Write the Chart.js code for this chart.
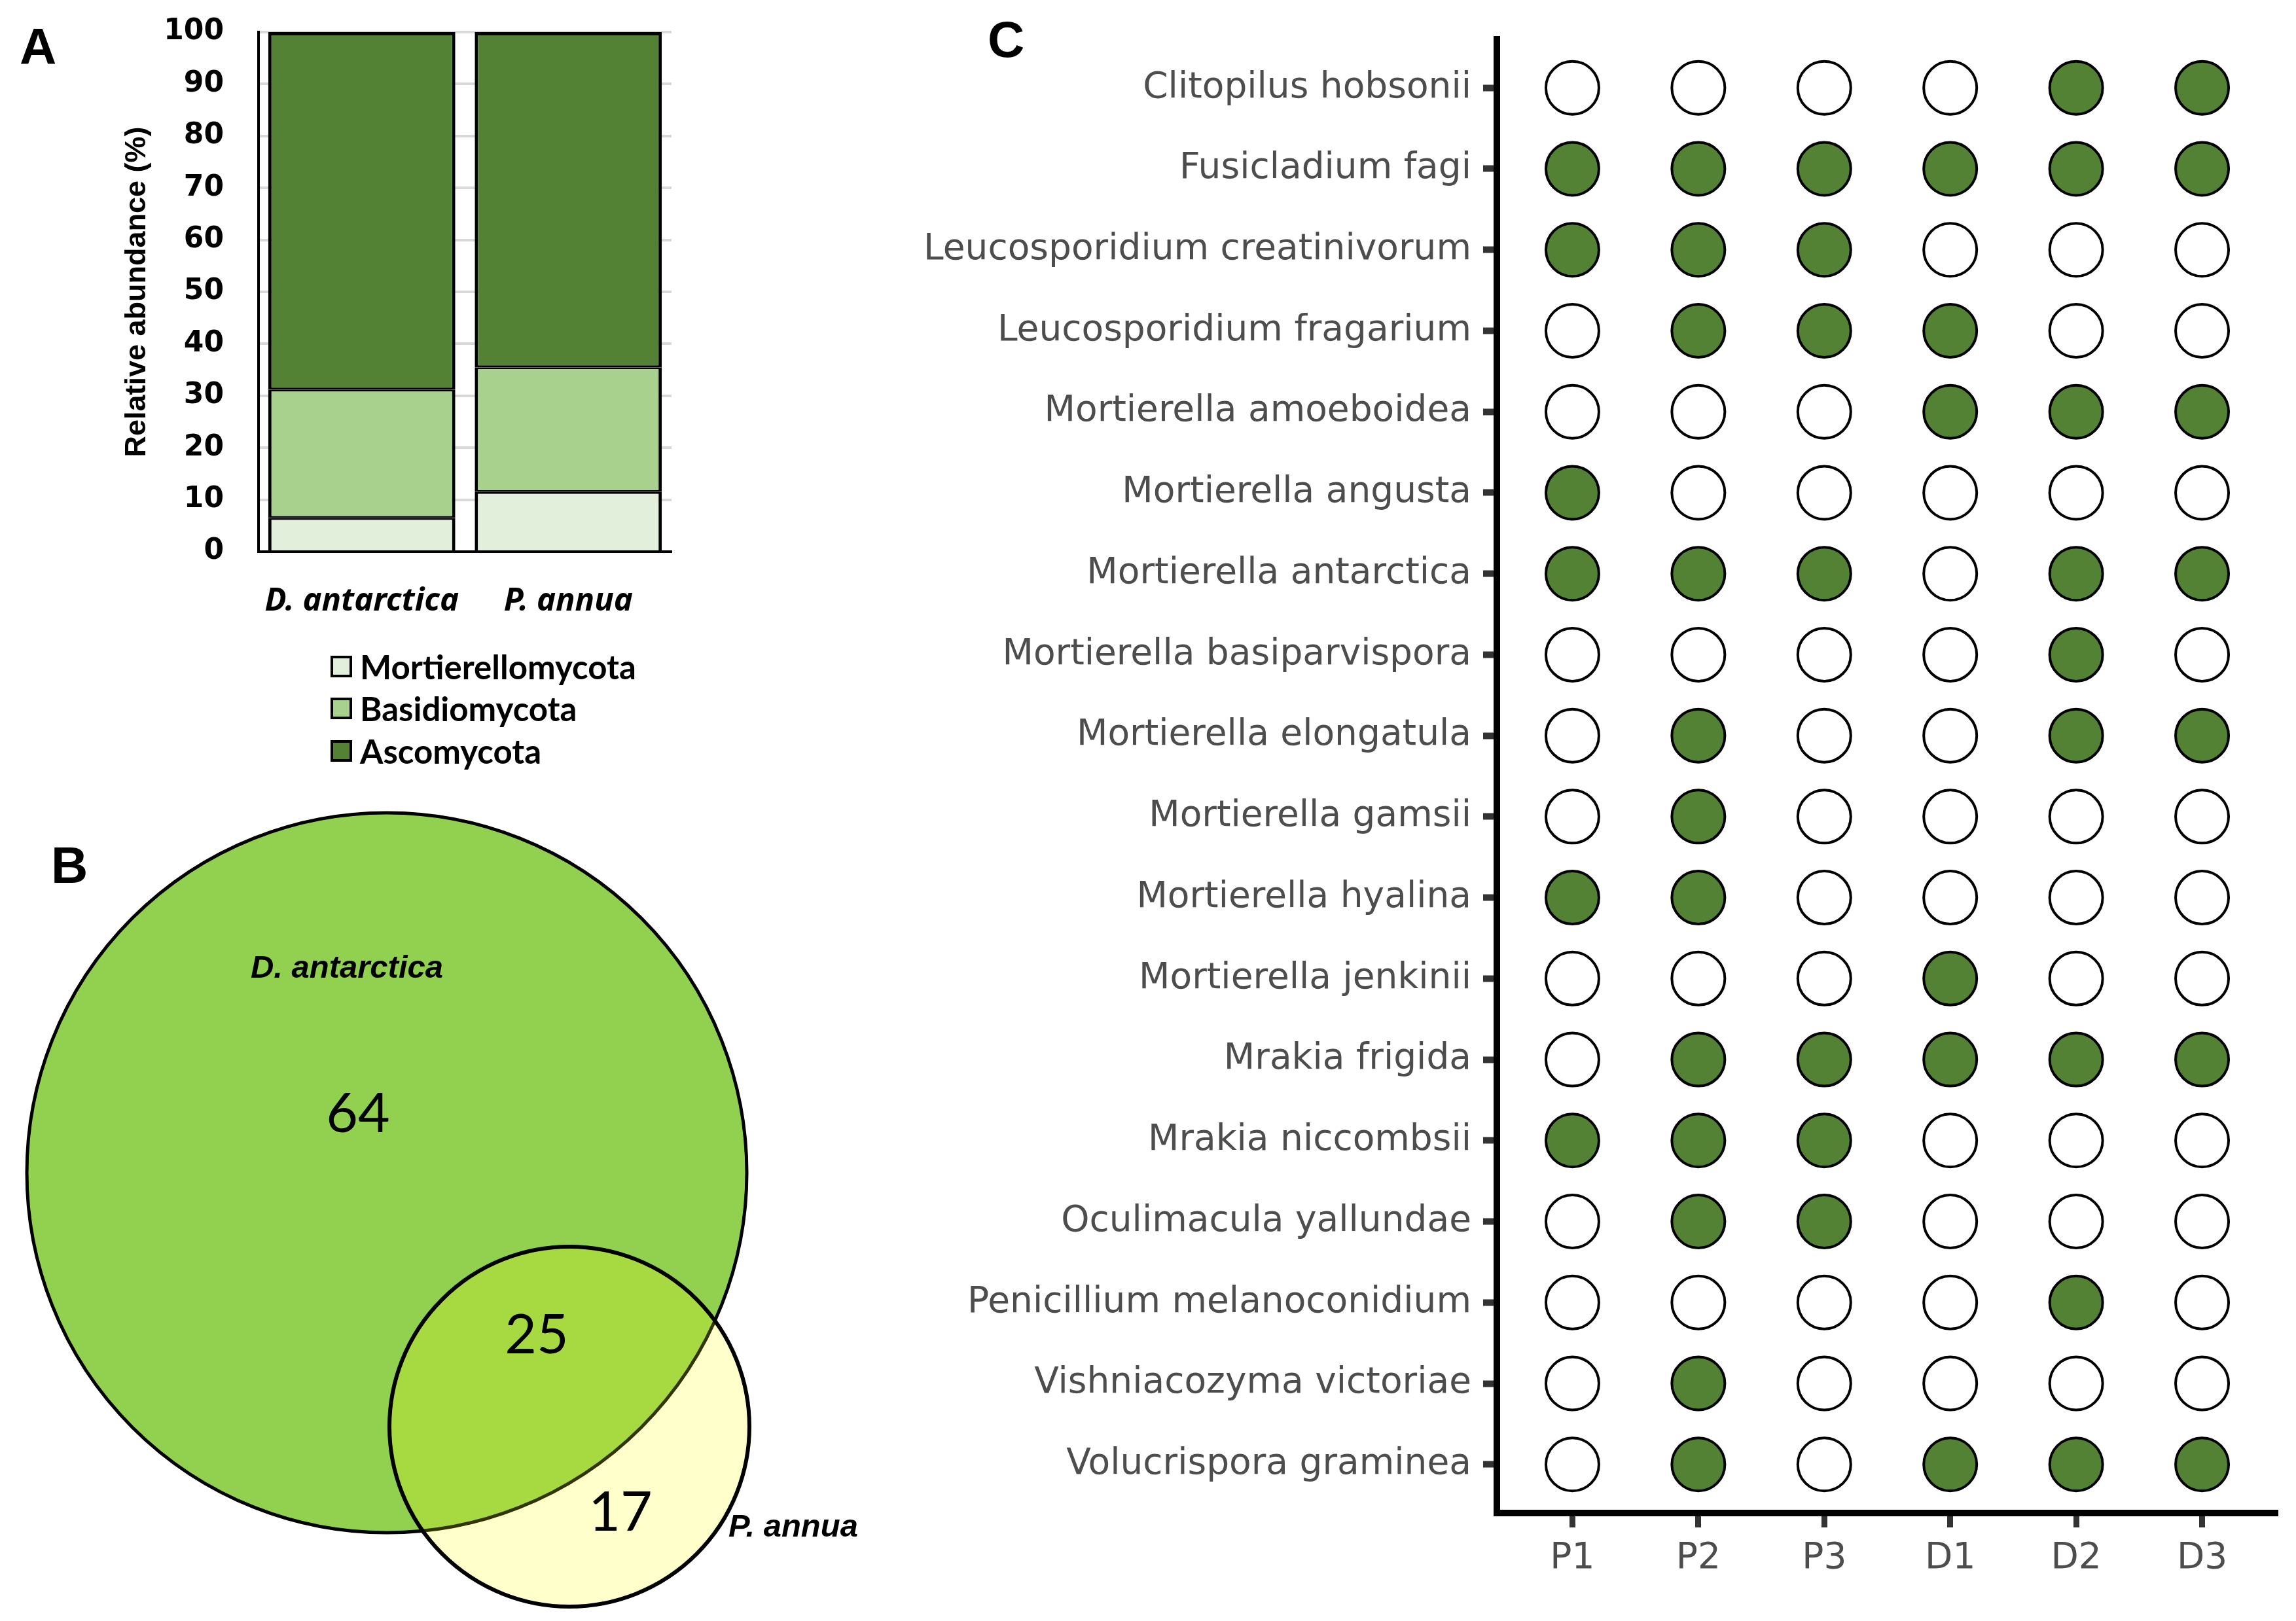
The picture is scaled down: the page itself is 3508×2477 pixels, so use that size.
<!DOCTYPE html>
<html>
<head>
<meta charset="utf-8">
<title>Fungal community composition</title>
<script src="https://cdn.jsdelivr.net/npm/chart.js@4.4.1/dist/chart.umd.min.js"></script>
<style>
  html, body { margin: 0; padding: 0; background: #fff; }
  body { width: 3508px; height: 2477px; position: relative; overflow: hidden; }
  canvas { position: absolute; }
  .letter { position: absolute; font-family: 'Liberation Sans', Arial, sans-serif; font-weight: bold; font-size: 78px; line-height: 1; color: #000; }
  .venn-text { position: absolute; transform: translate(-50%, -50%); line-height: 1; white-space: nowrap; color: #000; }
  .venn-name { font-family: 'Liberation Sans', Arial, sans-serif; font-weight: bold; font-style: italic; font-size: 49px; }
  .venn-count { font-family: 'Lato', 'Liberation Sans', sans-serif; font-size: 84px; }
  #legendA { position: absolute; left: 505px; top: 986px; font-family: 'Lato', sans-serif; font-weight: bold; font-size: 51px; color: #000; }
  .leg-row { display: flex; align-items: center; height: 64.5px; line-height: 1; }
  .leg-box { width: 33px; height: 33px; box-sizing: border-box; border: 4px solid #000; margin-right: 12px; }
</style>
</head>
<body>

<div class="letter" style="left:30px; top:32px;">A</div>
<div class="letter" style="left:78px; top:1283px;">B</div>
<div class="letter" style="left:1509px; top:21px;">C</div>

<canvas id="chartA" width="1100" height="1000" style="left:0; top:0;"></canvas>
<div id="legendA"></div>

<canvas id="chartB" width="1300" height="1277" style="left:0; top:1200px;"></canvas>
<div id="vennLabels"></div>

<canvas id="chartC" width="2208" height="2477" style="left:1300px; top:0;"></canvas>

<script>
// ---- panel A: relative abundance of phyla ----
const hosts = ['D. antarctica', 'P. annua'];
const phyla = ['Mortierellomycota', 'Basidiomycota', 'Ascomycota'];
const mortierellomycota = [6.5, 11.5];
const basidiomycota = [24.7, 24.0];
const ascomycota = [68.8, 64.5];
const phylumColors = ['#e2efda', '#a9d18e', '#548235'];

// ---- panel B: Venn counts ----
const vennSets = ['D. antarctica', 'P. annua'];
const vennCounts = [64, 25, 17]; // only D. antarctica, shared, only P. annua

// ---- panel C: presence of species per sample ----
const sites = ['P1', 'P2', 'P3', 'D1', 'D2', 'D3'];
const species = [
  'Clitopilus hobsonii',
  'Fusicladium fagi',
  'Leucosporidium creatinivorum',
  'Leucosporidium fragarium',
  'Mortierella amoeboidea',
  'Mortierella angusta',
  'Mortierella antarctica',
  'Mortierella basiparvispora',
  'Mortierella elongatula',
  'Mortierella gamsii',
  'Mortierella hyalina',
  'Mortierella jenkinii',
  'Mrakia frigida',
  'Mrakia niccombsii',
  'Oculimacula yallundae',
  'Penicillium melanoconidium',
  'Vishniacozyma victoriae',
  'Volucrispora graminea'
];
const presence = [
  [0, 0, 0, 0, 1, 1],
  [1, 1, 1, 1, 1, 1],
  [1, 1, 1, 0, 0, 0],
  [0, 1, 1, 1, 0, 0],
  [0, 0, 0, 1, 1, 1],
  [1, 0, 0, 0, 0, 0],
  [1, 1, 1, 0, 1, 1],
  [0, 0, 0, 0, 1, 0],
  [0, 1, 0, 0, 1, 1],
  [0, 1, 0, 0, 0, 0],
  [1, 1, 0, 0, 0, 0],
  [0, 0, 0, 1, 0, 0],
  [0, 1, 1, 1, 1, 1],
  [1, 1, 1, 0, 0, 0],
  [0, 1, 1, 0, 0, 0],
  [0, 0, 0, 0, 1, 0],
  [0, 1, 0, 0, 0, 0],
  [0, 1, 0, 1, 1, 1]
];

Chart.defaults.animation = false;
Chart.defaults.responsive = false;
Chart.defaults.devicePixelRatio = 1;
Chart.defaults.events = [];
Chart.defaults.plugins.tooltip.enabled = false;

// legend of panel A is written as html rows
const htmlLegend = {
  id: 'htmlLegend',
  afterUpdate(chart) {
    const box = document.getElementById('legendA');
    box.innerHTML = '';
    chart.options.plugins.legend.labels.generateLabels(chart).forEach(item => {
      const row = document.createElement('div');
      row.className = 'leg-row';
      const sw = document.createElement('span');
      sw.className = 'leg-box';
      sw.style.background = item.fillStyle;
      const tx = document.createElement('span');
      tx.textContent = item.text;
      row.append(sw, tx);
      box.append(row);
    });
  }
};

const phylumValues = [mortierellomycota, basidiomycota, ascomycota];
const segBorders = [
  {left: 5, right: 5, top: 3, bottom: 0},
  {left: 5, right: 5, top: 3, bottom: 3},
  {left: 5, right: 5, top: 5, bottom: 3}
];

new Chart(document.getElementById('chartA'), {
  type: 'bar',
  data: {
    labels: hosts,
    datasets: phyla.map((p, i) => ({
      label: p,
      data: phylumValues[i],
      backgroundColor: phylumColors[i],
      borderColor: '#000',
      borderWidth: segBorders[i],
      borderSkipped: false,
      categoryPercentage: 1.0,
      barPercentage: 0.906
    }))
  },
  options: {
    layout: {padding: {top: 49, right: 74, left: 0, bottom: 0}},
    plugins: {legend: {display: false}},
    scales: {
      x: {
        stacked: true,
        grid: {display: false, drawTicks: false},
        border: {display: true, color: '#000', width: 4},
        ticks: {
          color: '#000',
          padding: 47,
          font: {family: 'Noto Sans', style: 'italic', weight: 'bold', size: 49}
        },
        afterFit: s => { s.height = 157; }
      },
      y: {
        stacked: true,
        min: 0,
        max: 100,
        ticks: {
          stepSize: 10,
          color: '#000',
          padding: 0,
          font: {family: 'DejaVu Sans', weight: 'bold', size: 44}
        },
        // invisible tick marks keep the labels away from the axis
        grid: {color: '#d9d9d9', lineWidth: 4, drawTicks: true, tickLength: 53, tickColor: 'rgba(0,0,0,0)'},
        border: {display: true, color: '#000', width: 4},
        title: {
          display: true,
          text: 'Relative abundance (%)',
          color: '#000',
          padding: {top: 183, bottom: 0},
          font: {family: 'Liberation Sans', weight: 'bold', size: 45}
        },
        afterFit: s => { s.width = 395; }
      }
    }
  },
  plugins: [htmlLegend]
});

// ---- panel B: two overlapping circles drawn as bubbles ----
// layout of the diagram in page pixels (canvas starts at y = 1200)
const vennLayout = {
  centers: [{x: 591, y: 1792}, {x: 870, y: 2180}],
  radius: [550, 275],
  names: [{x: 530, y: 1477}, {x: 1212, y: 2331}],
  counts: [{x: 547, y: 1698}, {x: 820, y: 2036}, {x: 948, y: 2307}]
};

new Chart(document.getElementById('chartB'), {
  type: 'bubble',
  data: {
    datasets: [
      {
        label: vennSets[1],
        data: [{x: vennLayout.centers[1].x, y: vennLayout.centers[1].y, r: vennLayout.radius[1]}],
        backgroundColor: 'rgba(255, 255, 0, 0.2)',
        borderColor: '#000',
        borderWidth: 6,
        order: 1,
        clip: false
      },
      {
        label: vennSets[0],
        data: [{x: vennLayout.centers[0].x, y: vennLayout.centers[0].y, r: vennLayout.radius[0]}],
        backgroundColor: '#92d050',
        borderColor: '#000',
        borderWidth: 5,
        order: 2,
        clip: false
      }
    ]
  },
  options: {
    layout: {padding: 0, autoPadding: false},
    plugins: {legend: {display: false}},
    scales: {
      x: {type: 'linear', display: false, min: 0, max: 1300},
      y: {type: 'linear', display: false, min: 1200, max: 2477, reverse: true}
    }
  }
});

const vennBox = document.getElementById('vennLabels');
vennSets.forEach((name, i) => {
  const d = document.createElement('div');
  d.className = 'venn-text venn-name';
  d.style.left = vennLayout.names[i].x + 'px';
  d.style.top = vennLayout.names[i].y + 'px';
  d.textContent = name;
  vennBox.append(d);
});
vennCounts.forEach((n, i) => {
  const d = document.createElement('div');
  d.className = 'venn-text venn-count';
  d.style.left = vennLayout.counts[i].x + 'px';
  d.style.top = vennLayout.counts[i].y + 'px';
  d.textContent = n;
  vennBox.append(d);
});

// ---- panel C: presence / absence dot matrix ----
const dots = [];
const dotColors = [];
species.forEach((sp, r) => {
  sites.forEach((st, c) => {
    dots.push({x: c + 1, y: r + 1});
    dotColors.push(presence[r][c] ? '#548235' : '#ffffff');
  });
});

const tickFontC = {family: 'DejaVu Sans', size: 55};

new Chart(document.getElementById('chartC'), {
  type: 'scatter',
  data: {
    datasets: [{
      data: dots,
      pointRadius: 40.5,
      pointBackgroundColor: dotColors,
      pointBorderColor: '#000',
      pointBorderWidth: 4,
      clip: false
    }]
  },
  options: {
    layout: {padding: {top: 60, right: 28, left: 0, bottom: 0}, autoPadding: false},
    plugins: {legend: {display: false}},
    scales: {
      x: {
        type: 'linear',
        min: 0.4,
        max: sites.length + 0.6,
        afterBuildTicks: s => { s.ticks = sites.map((_, i) => ({value: i + 1})); },
        ticks: {
          autoSkip: false,
          color: '#4d4d4d',
          padding: 15,
          font: tickFontC,
          callback: v => sites[v - 1]
        },
        grid: {drawOnChartArea: false, drawTicks: true, tickLength: 22, tickWidth: 9, tickColor: '#333'},
        border: {display: true, color: '#000', width: 10},
        afterFit: s => { s.height = 165; }
      },
      y: {
        type: 'linear',
        reverse: true,
        min: 0.4,
        max: species.length + 0.6,
        afterBuildTicks: s => { s.ticks = species.map((_, i) => ({value: i + 1})); },
        ticks: {
          autoSkip: false,
          color: '#4d4d4d',
          padding: 18,
          font: tickFontC,
          callback: v => species[v - 1]
        },
        grid: {drawOnChartArea: false, drawTicks: true, tickLength: 21, tickWidth: 10, tickColor: '#333'},
        border: {display: true, color: '#000', width: 10},
        afterFit: s => { s.width = 987; }
      }
    }
  }
});
</script>
</body>
</html>
